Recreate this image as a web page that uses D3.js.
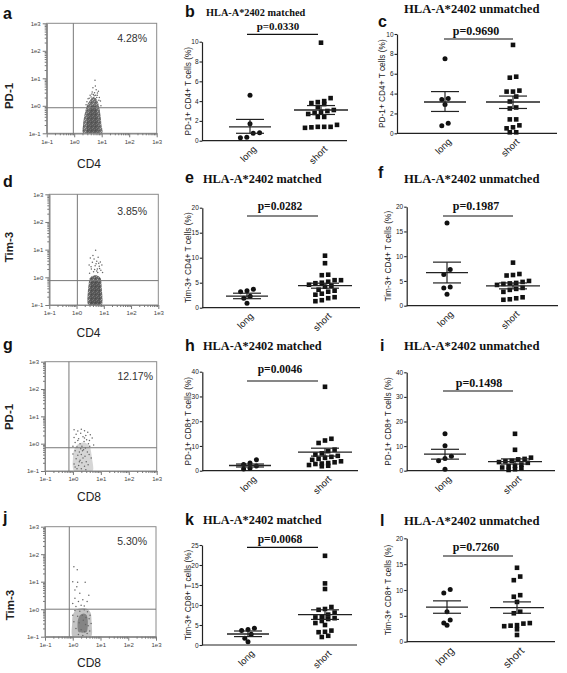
<!DOCTYPE html>
<html><head><meta charset="utf-8">
<script src="https://cdn.jsdelivr.net/npm/d3@7"></script>
<style>body{margin:0;background:#fff}svg{display:block}</style>
</head><body>
<svg id="fig" width="567" height="673"></svg>
<script>
// ---------------- DATA ----------------
const categories = ["long", "short"];
const panelLetters = ["a","b","c","d","e","f","g","h","i","j","k","l"];
const titles = ["HLA-A*2402 matched", "HLA-A*2402 unmatched"];
const pValues = ["p=0.0330","p=0.9690","p=0.0282","p=0.1987","p=0.0046","p=0.1498","p=0.0068","p=0.7260"];
const yTitles = ["PD-1+ CD4+ T cells (%)","Tim-3+ CD4+ T cells (%)","PD-1+ CD8+ T cells (%)","Tim-3+ CD8+ T cells (%)"];
const yMaxes = [10,10,20,20,40,40,25,20];
const ySteps = [2,2,5,5,10,10,5,5];

const bLong = [4.6, 1.7, 0.8, 0.75, 0.35, 0.3];
const bShort = [9.9, 4.3, 4.0, 3.9, 3.8, 3.7, 3.4, 3.1, 3.0, 2.9, 2.8, 2.7, 2.4, 2.4, 1.6, 1.4, 1.4, 1.4, 1.35, 1.3];
const bMean = [1.4, 3.1], bUpper = [2.15, 3.55], bLower = [0.75, 2.65];

const cLong = [7.5, 3.5, 3.4, 2.9, 1.0, 0.75];
const cShort = [8.9, 5.7, 5.6, 4.3, 4.2, 4.2, 3.7, 3.2, 2.6, 2.5, 1.4, 1.4, 0.8, 0.6, 0.5, 0.1, 0.1];
const cMean = [3.15, 3.15], cUpper = [4.2, 3.75], cLower = [2.2, 2.5];

const eLong = [3.7, 3.4, 3.2, 2.3, 1.9, 0.9];
const eShort = [10.4, 8.9, 6.6, 6.5, 5.5, 5.5, 5.2, 5.0, 4.9, 4.6, 4.4, 4.2, 3.6, 3.4, 3.2, 2.8, 2.6, 2.1, 1.9, 1.5, 1.3];
const eMean = [2.3, 4.4], eUpper = [2.9, 4.9], eLower = [1.8, 3.9];

const fLong = [16.7, 7.3, 6.3, 3.8, 3.6, 2.3];
const fShort = [8.7, 6.4, 6.2, 6.1, 5.0, 4.8, 4.6, 4.5, 4.4, 4.2, 3.6, 3.4, 3.2, 2.8, 1.7, 1.5, 1.3, 1.2];
const fMean = [6.7, 4.0], fUpper = [8.8, 4.6], fLower = [4.6, 3.4];

const hLong = [4.4, 3.1, 2.5, 1.9, 1.0, 0.7];
const hShort = [33.9, 12.9, 12.2, 11.2, 8.5, 7.9, 7.0, 6.5, 6.0, 5.6, 5.2, 4.8, 4.4, 3.8, 3.4, 3.1, 2.9, 2.7, 2.3, 2.0, 1.8];
const hMean = [2.1, 7.5], hUpper = [2.7, 9.1], hLower = [1.5, 5.9];

const iLong = [15.0, 10.1, 5.9, 5.0, 4.0, 0.6];
const iShort = [15.0, 8.5, 5.3, 4.8, 4.6, 4.0, 3.8, 3.5, 3.2, 2.5, 2.0, 1.8, 1.3, 1.0, 0.6, 0.3];
const iMean = [6.7, 3.7], iUpper = [8.7, 4.8], iLower = [4.7, 2.7];

const kLong = [4.2, 3.9, 3.6, 2.7, 1.7, 0.8];
const kShort = [22.3, 15.4, 14.0, 9.5, 9.0, 8.8, 8.1, 7.6, 7.0, 6.9, 6.7, 6.5, 6.0, 5.5, 5.0, 3.6, 3.3, 3.2, 2.3, 2.0];
const kMean = [2.75, 7.6], kUpper = [3.5, 8.8], kLower = [2.1, 6.4];

const lLong = [10.1, 9.4, 5.8, 4.2, 3.6, 3.2];
const lShort = [14.3, 12.6, 11.9, 9.0, 8.7, 7.7, 5.8, 5.5, 3.6, 3.5, 3.2, 3.1, 3.0, 2.4, 1.3];
const lMean = [6.7, 6.6], lUpper = [7.9, 7.7], lLower = [5.5, 5.5];

// flow cytometry panels
const flowTicks = [0.1, 1, 10, 100, 1000];
const flowXLabels = ["CD4", "CD4", "CD8", "CD8"];
const flowYLabels = ["PD-1", "Tim-3", "PD-1", "Tim-3"];
const flowPercents = ["4.28%", "3.85%", "12.17%", "5.30%"];
const flowGates = [[0.93, 0.85], [1.07, 0.76], [0.72, 0.71], [0.75, 1.0]];

const aCore = [[2.2,0.1],[2.1,0.2],[2.3,0.4],[2.6,0.7],[3.0,1.1],[3.6,1.5],[4.3,1.9],[5.2,2.1],[6.3,1.8],[7.4,1.3],[8.3,0.8],[9.2,0.4],[9.8,0.2],[10,0.1]];
const aInner = [[3.0,0.1],[3.0,0.3],[3.4,0.6],[4.2,0.95],[5.4,1.05],[6.5,0.75],[7.2,0.4],[7.5,0.1]];
const aDots = [[5.7,8.5],[6.3,3.8],[4.5,3.2],[7.0,2.9],[5.0,2.6],[3.8,2.4],[6.0,2.4],[8.2,2.0],[3.2,1.8],[4.8,4.5],[5.5,3.0],[9.0,1.5],[2.9,1.4],[7.6,3.4],[4.1,2.1],[6.6,2.0],[5.3,2.3],[3.5,1.9],[7.9,1.6],[4.4,2.7],[6.9,2.4],[2.7,1.1],[9.4,1.0],[5.9,5.2]];

const dCore = [[2.7,0.1],[2.6,0.3],[2.8,0.6],[3.0,0.9],[3.6,1.1],[5.0,1.2],[6.5,1.1],[7.8,0.9],[8.3,0.5],[8.5,0.1]];
const dInner = [[3.2,0.1],[3.2,0.4],[3.6,0.7],[4.6,0.8],[5.8,0.8],[6.8,0.6],[7.3,0.3],[7.2,0.1]];
const dDots = [[5.0,9.5],[3.2,5.0],[4.4,4.6],[6.2,5.3],[3.8,3.5],[5.5,3.8],[7.5,3.6],[2.9,2.8],[4.8,2.6],[6.8,2.5],[8.5,2.8],[3.5,2.0],[5.8,2.0],[7.8,1.8],[4.2,1.6],[6.0,1.5],[3.0,1.4],[9.0,1.5],[4.0,6.2],[5.2,3.1],[6.5,3.2],[3.4,2.4],[7.0,2.1],[4.6,1.9],[5.5,1.7]];

const gCore = [[1.1,0.1],[1.0,0.3],[1.1,0.6],[1.4,0.9],[2.2,1.1],[3.2,1.0],[4.2,0.7],[4.8,0.3],[5.0,0.1]];
const gInner = [];
const gDots = [[1.1,3.2],[1.5,2.9],[2.0,3.4],[2.6,3.0],[3.4,2.6],[1.3,2.2],[1.9,2.4],[2.9,2.0],[4.2,2.1],[1.1,1.7],[1.6,1.5],[2.3,1.8],[3.1,1.4],[4.9,1.6],[1.2,1.1],[1.8,1.0],[2.5,1.2],[3.6,1.0],[1.0,0.8],[1.4,0.75],[2.1,0.8],[2.8,0.7],[4.0,0.8],[5.5,0.9],[1.2,0.55],[1.7,0.5],[2.4,0.6],[3.3,0.5],[1.0,0.42],[1.5,0.38],[2.0,0.4],[2.7,0.35],[3.8,0.4],[1.3,0.28],[1.8,0.25],[2.3,0.3],[3.0,0.22],[4.5,0.3],[1.1,0.18],[1.6,0.16],[2.1,0.2],[2.6,0.15],[3.5,0.17],[1.4,0.12],[2.0,0.12],[2.9,0.11],[1.2,0.14],[1.7,0.22],[2.2,0.55],[1.9,0.65],[2.6,1.6],[3.9,1.3],[1.5,1.3]];

const jCore = [[1.0,0.1],[0.95,0.3],[1.0,0.6],[1.3,0.95],[2.2,1.1],[3.5,1.0],[4.5,0.7],[4.8,0.3],[4.5,0.1]];
const jInner = [[1.6,0.15],[1.5,0.35],[1.8,0.6],[2.5,0.7],[3.2,0.6],[3.5,0.35],[3.2,0.15]];
const jDots = [[1.1,35],[1.45,27],[1.0,10],[1.5,9.5],[2.8,9.5],[1.2,5],[1.8,3.8],[1.2,2.5],[3.3,1.9],[1.0,1.6],[2.0,1.4],[1.4,6.5],[2.3,2.2],[3.8,3.2],[1.6,1.9],[2.6,1.3],[1.3,1.25],[1.2,0.9],[1.8,0.85],[2.6,0.95],[3.4,0.8],[4.2,0.6],[1.0,0.6],[1.5,0.55],[2.2,0.6],[3.0,0.5],[3.9,0.45],[4.6,0.3],[1.1,0.35],[1.7,0.32],[2.4,0.4],[2.9,0.28],[3.6,0.25],[1.3,0.2],[2.0,0.18],[2.7,0.15],[3.3,0.13],[4.1,0.16],[1.6,0.12],[2.3,0.11]];

// ---------------- DRAW ----------------
const svg = d3.select("#fig");
svg.append("rect").attr("width",567).attr("height",673).attr("fill","#fff");
const SANS = "'Liberation Sans', Arial, sans-serif";
const SERIF = "'Liberation Serif', 'Times New Roman', serif";

const defs = svg.append("defs");
const pat = defs.append("pattern").attr("id", "grain").attr("patternUnits", "userSpaceOnUse")
  .attr("width", 4).attr("height", 4);
pat.append("rect").attr("width", 4).attr("height", 4).attr("fill", "#5a5a5a");
pat.append("rect").attr("x", 0).attr("y", 0).attr("width", 1).attr("height", 1).attr("fill", "#9a9a9a");
pat.append("rect").attr("x", 2).attr("y", 1).attr("width", 1).attr("height", 1).attr("fill", "#8a8a8a");
pat.append("rect").attr("x", 1).attr("y", 3).attr("width", 1).attr("height", 1).attr("fill", "#a0a0a0");
pat.append("rect").attr("x", 3).attr("y", 2).attr("width", 1).attr("height", 1).attr("fill", "#3a3a3a");

const letterPos = [[3,19],[185,17],[378,27],[3,187],[185,183],[378,178],[3,350],[185,351],[380,351],[3,523],[185,525],[380,526]];
panelLetters.forEach((L, i) => {
  svg.append("text").attr("x", letterPos[i][0]).attr("y", letterPos[i][1])
    .attr("font-family", SANS).attr("font-weight", 700).attr("font-size", 16)
    .attr("fill", "#111").text(L);
});

const flowLayout = [
  {left:46.7, right:156.7, top:23.3, bottom:133.3, pctX:147, pctY:42, ylx:13, yly:96, xlx:89, xly:168},
  {left:49.3, right:158.3, top:194.3, bottom:305, pctX:147, pctY:215, ylx:13, yly:247, xlx:88.5, xly:337},
  {left:45, right:156.7, top:361.7, bottom:471, pctX:153, pctY:380, ylx:13, yly:417, xlx:89, xly:501},
  {left:45, right:156, top:526.7, bottom:636.7, pctX:147, pctY:545, ylx:14, yly:605, xlx:89, xly:667}
];
const flowCores = [aCore, dCore, gCore, jCore];
const flowInners = [aInner, dInner, gInner, jInner];
const flowDots = [aDots, dDots, gDots, jDots];
const coreFill = ["url(#grain)", "url(#grain)", "#8a8a8a", "#8a8a8a"];
const coreOpacity = [0.85, 0.9, 0.35, 0.5];

flowLayout.forEach((L, i) => {
  const g = svg.append("g");
  const x = d3.scaleLog().domain([0.1, 1000]).range([L.left, L.right]);
  const y = d3.scaleLog().domain([0.1, 1000]).range([L.bottom, L.top]);
  const minor = [];
  [0.1, 1, 10, 100].forEach(d => { for (let k = 2; k <= 9; k++) minor.push(k * d); });
  const fmt = d => "1e" + Math.round(Math.log10(d));

  const clipId = "clip" + i;
  defs.append("clipPath").attr("id", clipId).append("rect")
    .attr("x", L.left).attr("y", L.top).attr("width", L.right - L.left).attr("height", L.bottom - L.top);
  const cloud = g.append("g").attr("clip-path", `url(#${clipId})`);
  const line = d3.line().x(d => x(d[0])).y(d => y(d[1])).curve(d3.curveCardinalClosed.tension(0.3));
  cloud.append("path").attr("d", line(flowCores[i])).attr("fill", coreFill[i]).attr("fill-opacity", coreOpacity[i]);
  if (flowInners[i].length) cloud.append("path").attr("d", line(flowInners[i])).attr("fill", "#444").attr("fill-opacity", 0.5);
  cloud.selectAll("circle").data(flowDots[i]).join("circle")
    .attr("cx", d => x(d[0])).attr("cy", d => y(d[1])).attr("r", 0.75).attr("fill", "#666");

  g.append("rect").attr("x", L.left).attr("y", L.top).attr("width", L.right - L.left).attr("height", L.bottom - L.top)
    .attr("fill", "none").attr("stroke", "#8a8a8a").attr("stroke-width", 1);
  const axL = g.append("g").attr("transform", `translate(${L.left},0)`)
    .call(d3.axisLeft(y).tickValues(flowTicks).tickFormat(fmt).tickSize(4).tickPadding(2).tickSizeOuter(0));
  const axLm = g.append("g").attr("transform", `translate(${L.left},0)`)
    .call(d3.axisLeft(y).tickValues(minor).tickFormat("").tickSize(2).tickSizeOuter(0));
  const axB = g.append("g").attr("transform", `translate(0,${L.bottom})`)
    .call(d3.axisBottom(x).tickValues(flowTicks).tickFormat(fmt).tickSize(4).tickPadding(2).tickSizeOuter(0));
  const axBm = g.append("g").attr("transform", `translate(0,${L.bottom})`)
    .call(d3.axisBottom(x).tickValues(minor).tickFormat("").tickSize(2).tickSizeOuter(0));
  [axL, axLm, axB, axBm].forEach(a => {
    a.select(".domain").attr("stroke", "#8a8a8a");
    a.selectAll(".tick line").attr("stroke", "#777");
    a.selectAll("text").attr("font-family", SANS).attr("font-size", 6).attr("fill", "#444");
  });
  const [gx, gy] = flowGates[i];
  g.append("line").attr("x1", x(gx)).attr("x2", x(gx)).attr("y1", L.top).attr("y2", L.bottom).attr("stroke", "#777").attr("stroke-width", 1);
  g.append("line").attr("x1", L.left).attr("x2", L.right).attr("y1", y(gy)).attr("y2", y(gy)).attr("stroke", "#777").attr("stroke-width", 1);
  g.append("text").attr("x", L.pctX).attr("y", L.pctY).attr("text-anchor", "end")
    .attr("font-family", SANS).attr("font-size", 10.5).attr("fill", "#333").text(flowPercents[i]);
  g.append("text").attr("transform", `translate(${L.ylx},${L.yly}) rotate(-90)`).attr("text-anchor", "middle")
    .attr("font-family", SANS).attr("font-weight", 700).attr("font-size", 11.5).attr("fill", "#222").text(flowYLabels[i]);
  g.append("text").attr("x", L.xlx).attr("y", L.xly).attr("text-anchor", "middle")
    .attr("font-family", SANS).attr("font-size", 12).attr("fill", "#222").text(flowXLabels[i]);
});

const scatterData = [
  [bLong, bShort, bMean, bUpper, bLower],
  [cLong, cShort, cMean, cUpper, cLower],
  [eLong, eShort, eMean, eUpper, eLower],
  [fLong, fShort, fMean, fUpper, fLower],
  [hLong, hShort, hMean, hUpper, hLower],
  [iLong, iShort, iMean, iUpper, iLower],
  [kLong, kShort, kMean, kUpper, kLower],
  [lLong, lShort, lMean, lUpper, lLower]
];
const scatterLayout = [
  {tx:206, ty:16, ts:10.3, pcx:278, py:30, ps:11, sy:34.3, sx1:247, sx2:318, ax:202, yTop:41.7, yBot:140.7, xEnd:347, lx:250, sx:321, ytx:188, cs:9.5},
  {tx:404, ty:13, ts:12.6, pcx:476, py:35, ps:12, sy:39, sx1:444, sx2:513, ax:397, yTop:34, yBot:133.3, xEnd:557, lx:445, sx:513, ytx:382, cs:9.5},
  {tx:203, ty:183, ts:12.3, pcx:280, py:210, ps:11.5, sy:216, sx1:247, sx2:318, ax:202.3, yTop:207.7, yBot:307.7, xEnd:360, lx:247, sx:325, ytx:188, cs:9.5},
  {tx:404, ty:183, ts:12.6, pcx:476, py:210, ps:12, sy:216, sx1:443, sx2:513, ax:406.7, yTop:206.7, yBot:305.7, xEnd:558, lx:447, sx:513, ytx:388, cs:9.5},
  {tx:203, ty:350, ts:12.3, pcx:280, py:373, ps:11.5, sy:381, sx1:247, sx2:318, ax:202.3, yTop:371.7, yBot:470.7, xEnd:358, lx:250, sx:325, ytx:188, cs:9.5},
  {tx:404, ty:350, ts:12.6, pcx:479, py:387, ps:12, sy:391, sx1:443, sx2:513, ax:406.7, yTop:372.3, yBot:470.7, xEnd:555, lx:445, sx:515, ytx:388, cs:9.5},
  {tx:203, ty:524, ts:12.3, pcx:280, py:543, ps:11.5, sy:547.3, sx1:247, sx2:318, ax:202, yTop:545, yBot:645, xEnd:357, lx:248, sx:325, ytx:188, cs:9.5},
  {tx:404, ty:525, ts:12.6, pcx:476, py:551, ps:12, sy:556, sx1:443, sx2:513, ax:406.7, yTop:538.3, yBot:641.7, xEnd:555, lx:447, sx:517, ytx:388, cs:11}
];

function layoutPoints(vals, yScale, cx, size, maxRow) {
  const pts = vals.map(v => ({v, py: yScale(v)})).sort((a, b) => a.py - b.py);
  const rows = []; let cur = null;
  pts.forEach(p => {
    if (!cur || p.py - cur.start > size || cur.pts.length >= maxRow) { cur = {start: p.py, pts: []}; rows.push(cur); }
    cur.pts.push(p);
  });
  rows.forEach(r => {
    const n = r.pts.length;
    r.pts.sort((a, b) => a.v - b.v);
    r.pts.forEach((p, k) => { p.px = cx + (k - (n - 1) / 2) * (size + 1.4); });
  });
  return pts;
}

scatterLayout.forEach((L, i) => {
  const [longV, shortV, meanV, upV, loV] = scatterData[i];
  const g = svg.append("g");
  const yMax = yMaxes[i], step = ySteps[i];
  const y = d3.scaleLinear().domain([0, yMax]).range([L.yBot, L.yTop]);
  const x = d3.scalePoint().domain(categories).range([L.lx, L.sx]);

  g.append("text").attr("x", L.tx).attr("y", L.ty).attr("font-family", SERIF).attr("font-weight", 700)
    .attr("font-size", L.ts).attr("fill", "#111").text(titles[i % 2]);
  g.append("text").attr("x", L.pcx).attr("y", L.py).attr("text-anchor", "middle").attr("font-family", SERIF)
    .attr("font-weight", 700).attr("font-size", L.ps).attr("fill", "#111").text(pValues[i]);
  g.append("line").attr("x1", L.sx1).attr("x2", L.sx2).attr("y1", L.sy).attr("y2", L.sy)
    .attr("stroke", "#111").attr("stroke-width", 1.2);

  const ay = g.append("g").attr("transform", `translate(${L.ax},0)`)
    .call(d3.axisLeft(y).tickValues(d3.range(0, yMax + 1e-9, step)).tickSize(2.5).tickPadding(1).tickSizeOuter(0));
  ay.select(".domain").attr("stroke", "#222").attr("stroke-width", 1.2);
  ay.selectAll(".tick line").attr("stroke", "#222").attr("stroke-width", 1.1);
  ay.selectAll("text").attr("font-family", SANS).attr("font-size", 6.5).attr("fill", "#222");
  g.append("line").attr("x1", L.ax).attr("x2", L.xEnd).attr("y1", y(0)).attr("y2", y(0))
    .attr("stroke", "#222").attr("stroke-width", 1.2);
  g.append("text").attr("transform", `translate(${L.ytx},${(L.yTop + L.yBot) / 2}) rotate(-90)`)
    .attr("text-anchor", "middle").attr("dy", "0.35em").attr("font-family", SANS)
    .attr("font-size", 8.3).attr("fill", "#222").text(yTitles[Math.floor(i / 2)]);

  // category labels, rotated 45 degrees
  categories.forEach(c => {
    const ex = x(c) + 2, ey = y(0) + 4;
    g.append("text").attr("x", 0).attr("y", 0).attr("dy", "0.75em")
      .attr("transform", `translate(${ex},${ey}) rotate(-45)`)
      .attr("text-anchor", "end").attr("font-family", SANS)
      .attr("font-size", L.cs).attr("fill", "#222").text(c);
  });

  const longPts = layoutPoints(longV, y, x("long"), 5, 5);
  const shortPts = layoutPoints(shortV, y, x("short"), 5, 6);
  g.selectAll(".lp").data(longPts).join("circle").attr("class", "lp")
    .attr("cx", d => d.px).attr("cy", d => d.py).attr("r", 2.5).attr("fill", "#111");
  g.selectAll(".sp").data(shortPts).join("rect").attr("class", "sp")
    .attr("x", d => d.px - 2.3).attr("y", d => d.py - 2.3).attr("width", 4.6).attr("height", 4.6).attr("fill", "#111");

  categories.forEach((c, k) => {
    const cx = x(c);
    const mw = k === 0 ? 21 : 27, sw = 14;
    g.append("line").attr("x1", cx - mw).attr("x2", cx + mw).attr("y1", y(meanV[k])).attr("y2", y(meanV[k]))
      .attr("stroke", "#222").attr("stroke-width", 1.3);
    g.append("line").attr("x1", cx).attr("x2", cx).attr("y1", y(upV[k])).attr("y2", y(loV[k]))
      .attr("stroke", "#222").attr("stroke-width", 1.2);
    [upV[k], loV[k]].forEach(v => {
      g.append("line").attr("x1", cx - sw).attr("x2", cx + sw).attr("y1", y(v)).attr("y2", y(v))
        .attr("stroke", "#222").attr("stroke-width", 1.2);
    });
  });
});
</script>
</body></html>
